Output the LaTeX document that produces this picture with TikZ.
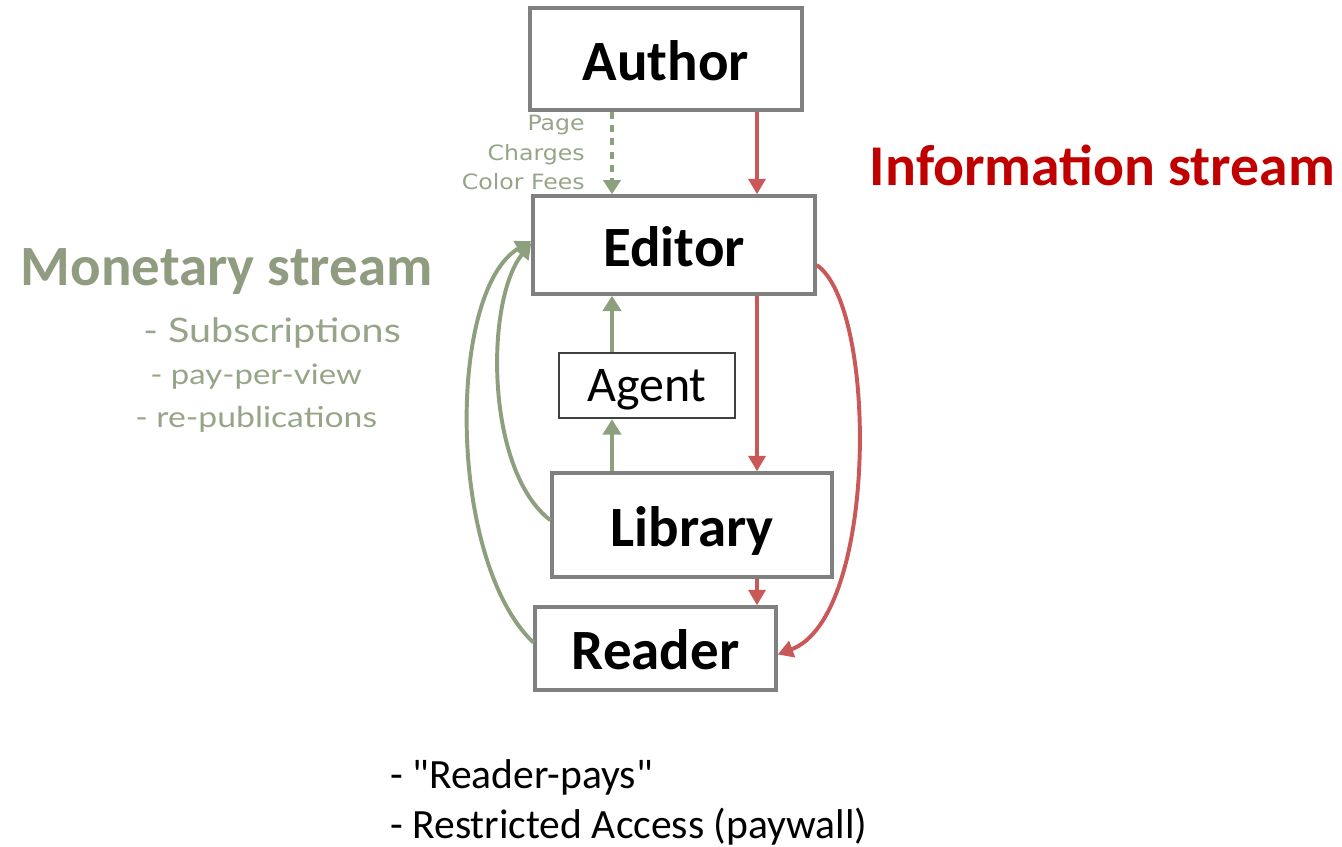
\documentclass[tikz,border=0pt]{standalone}
\usepackage{fontspec}
\setmainfont{Carlito}
\newfontfamily\notefont[FakeStretch=1.12]{DejaVu Sans}
\newfontfamily\listfont[FakeStretch=1.17]{Lato}
\usetikzlibrary{arrows.meta}

\definecolor{boxgray}{RGB}{128,128,128}
\definecolor{infored}{RGB}{192,0,0}
\definecolor{arrowred}{RGB}{201,88,88}
\definecolor{arrowgreen}{RGB}{141,160,125}
\definecolor{moneygreen}{RGB}{143,156,128}
\definecolor{listgreen}{RGB}{150,165,135}

\tikzset{
	box/.style={draw=boxgray,line width=2.4pt,fill=white,inner sep=0pt,
		text height=30pt,text depth=0pt,
		font=\fontsize{40.5}{48}\selectfont\bfseries},
	infoArrow/.style={draw=arrowred,line width=2.8pt,-{Triangle[length=11pt,width=12pt]}},
	moneyArrow/.style={draw=arrowgreen,line width=3.4pt,-{Triangle[length=11pt,width=13pt]}},
	moneyCurve/.style={draw=arrowgreen,line width=2.8pt,-{Triangle[length=11pt,width=12pt]}},
	feeArrow/.style={draw=arrowgreen,line width=3.4pt,dash pattern=on 5pt off 4.5pt,-{Triangle[length=10pt,width=12pt]}},
	feeText/.style={anchor=base east,inner sep=0pt,text=listgreen,font=\notefont\fontsize{15}{18}\selectfont},
	listText/.style={anchor=base west,inner sep=0pt,text=listgreen}
}

\begin{document}
\begin{tikzpicture}[x=0.025cm,y=0.025cm]
	\useasboundingbox (0,0) rectangle (1342,847);
	
	\newcommand\drawBox[6]{\node[box,minimum width=#3*0.025cm,minimum height=#4*0.025cm] at (#1,#2) (#5) {#6};}
	
	\drawBox{666}{788}{272}{102}{author}{Author}
	\drawBox{674}{602}{282}{98}{editor}{Editor}
	\drawBox{692}{322}{280}{104}{library}{Library}
	\drawBox{655.5}{198.5}{241}{83}{reader}{Reader}
	\node[box,font=\fontsize{35.5}{42}\selectfont,text height=22.7pt,minimum width=176*0.025cm,minimum height=65*0.025cm,line width=1.8pt,draw=black!75] at (647,461.5) (agent) {Agent};
	
	% columns of the straight arrows
	\coordinate (moneyCol) at (612,0);
	\coordinate (infoCol) at (757,0);
	
	% information stream
	\draw[infoArrow] (author.south -| infoCol) -- (editor.north -| infoCol);
	\draw[infoArrow] (editor.south -| infoCol) -- (library.north -| infoCol);
	\draw[infoArrow] (library.south -| infoCol) -- (reader.north -| infoCol);
	\draw[infoArrow] ([yshift=-0.5cm]editor.east) .. controls (878,540) and (878,230) .. ([yshift=-0.15cm]reader.east);
	
	% monetary stream
	\draw[feeArrow] (author.south -| moneyCol) -- (editor.north -| moneyCol);
	\draw[moneyArrow] (library.north -| moneyCol) -- (agent.south -| moneyCol);
	\draw[moneyArrow] (agent.north -| moneyCol) -- (editor.south -| moneyCol);
	\draw[moneyCurve] ([yshift=0.12cm]library.west) .. controls (485,377) and (485,547) .. ([yshift=0.05cm]editor.west);
	\draw[moneyCurve] ([yshift=0.15cm]reader.west) .. controls (447,287) and (447,557) .. ([yshift=0.1cm]editor.west);
	
	\node[feeText] at (585,716) (pageTxt) {Page};
	\node[feeText] at (585,686) (chargesTxt) {Charges};
	\node[feeText] at (585,657) (feesTxt) {Color Fees};
	
	% labels
	\node[anchor=base west,text=infored,font=\fontsize{41}{49}\selectfont\bfseries] at (865,661) (infoTxt) {Information stream};
	\node[anchor=base west,text=moneygreen,font=\fontsize{40.5}{48}\selectfont\bfseries] at (16,561) (moneyTxt) {Monetary stream};
	\node[listText,font=\listfont\fontsize{24}{28}\selectfont] at (143,504) (subsTxt) {- Subscriptions};
	\node[listText,font=\listfont\fontsize{20}{24}\selectfont] at (150,462) (ppvTxt) {- pay-per-view};
	\node[listText,font=\listfont\fontsize{20.5}{24}\selectfont] at (135,419) (repubTxt) {- re-publications};
	
	\node[anchor=base west,inner sep=0pt,font=\fontsize{29.6}{35}\selectfont] at (390,58) (paysTxt) {- \textquotedbl Reader-pays\textquotedbl};
	\node[anchor=base west,inner sep=0pt,font=\fontsize{29.6}{35}\selectfont] at (390,8) (paywallTxt) {- Restricted Access (paywall)};
\end{tikzpicture}
\end{document}
